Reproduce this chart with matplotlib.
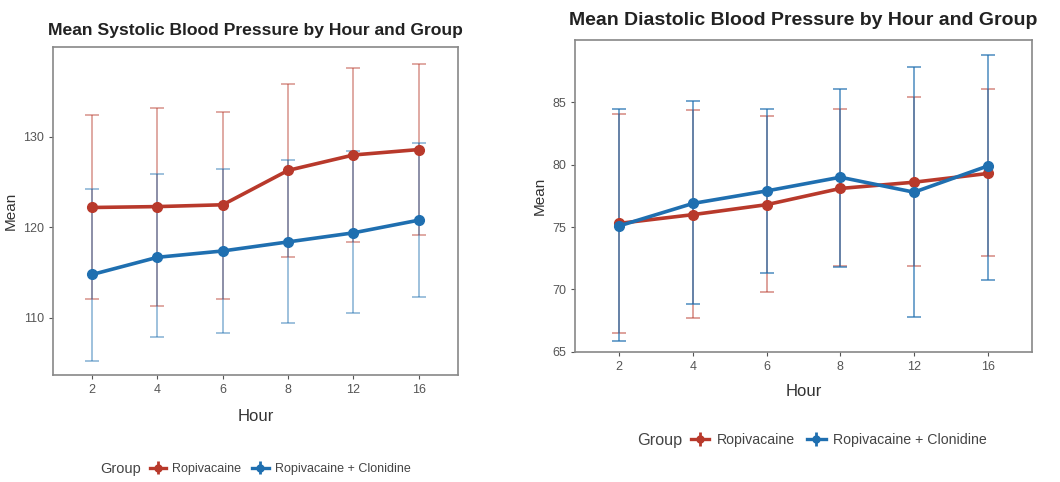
import matplotlib
matplotlib.use("Agg")
import matplotlib.pyplot as plt
from matplotlib.offsetbox import HPacker

# hours are treated as categories (evenly spaced)
hours = ["2", "4", "6", "8", "12", "16"]
groups = ["Ropivacaine", "Ropivacaine + Clonidine"]

# systolic: means and error bar ends
sys_ropi_mean = [122.2, 122.3, 122.5, 126.3, 128.0, 128.6]
sys_ropi_hi = [132.4, 133.2, 132.7, 135.8, 137.6, 138.1]
sys_ropi_lo = [112.1, 111.3, 112.1, 116.7, 118.4, 119.2]
sys_clon_mean = [114.8, 116.7, 117.4, 118.4, 119.4, 120.8]
sys_clon_hi = [124.2, 125.9, 126.5, 127.4, 128.4, 129.3]
sys_clon_lo = [105.2, 107.9, 108.3, 109.4, 110.6, 112.3]

# diastolic
dia_ropi_mean = [75.3, 76.0, 76.8, 78.1, 78.6, 79.3]
dia_ropi_hi = [84.1, 84.4, 83.9, 84.5, 85.4, 86.1]
dia_ropi_lo = [66.5, 67.7, 69.8, 71.9, 71.9, 72.7]
dia_clon_mean = [75.1, 76.9, 77.9, 79.0, 77.8, 79.9]
dia_clon_hi = [84.5, 85.1, 84.5, 86.1, 87.8, 88.8]
dia_clon_lo = [65.9, 68.8, 71.3, 71.8, 67.8, 70.8]

RED = "#B8392B"
BLUE = "#1F6FB0"
plt.rcParams["font.family"] = ["Liberation Sans", "DejaVu Sans"]


def draw_group(ax, mean, lo, hi, color, err_alpha):
    x = list(range(len(hours)))
    yerr = [[m - l for m, l in zip(mean, lo)], [h - m for m, h in zip(mean, hi)]]
    ax.errorbar(x, mean, yerr=yerr, fmt="none", ecolor=color, elinewidth=1.1,
                capsize=5, capthick=1.1, alpha=err_alpha, zorder=2)
    ax.plot(x, mean, color=color, lw=2.6, marker="o", ms=7, zorder=3)


def style_axes(ax, title, ylim, yticks, title_size, title_y, xlabelpad):
    ax.set_xlim(-0.6, len(hours) - 0.4)
    ax.set_ylim(*ylim)
    ax.set_yticks(yticks)
    ax.set_xticks(range(len(hours)))
    ax.set_xticklabels(hours)
    ax.tick_params(colors="#555555", labelsize=9, length=3, width=0.8)
    for s in ax.spines.values():
        s.set_color("#888888")
        s.set_linewidth(1.2)
    ax.set_ylabel("Mean", fontsize=11, color="#333333")
    ax.set_xlabel("Hour", fontsize=12, color="#333333", labelpad=xlabelpad)
    ax.set_title(title, fontsize=title_size, fontweight="bold", color="#222222",
                 y=title_y)


fig = plt.figure(figsize=(10.6, 4.82), dpi=100)

ax1 = fig.add_axes([0.050, 0.222, 0.382, 0.680])
draw_group(ax1, sys_ropi_mean, sys_ropi_lo, sys_ropi_hi, RED, 0.55)
draw_group(ax1, sys_clon_mean, sys_clon_lo, sys_clon_hi, BLUE, 0.55)
style_axes(ax1, "Mean Systolic Blood Pressure by Hour and Group",
           (103.7, 139.9), [110, 120, 130], 12.6, 1.012, 9)

ax2 = fig.add_axes([0.5425, 0.270, 0.431, 0.647])
draw_group(ax2, dia_ropi_mean, dia_ropi_lo, dia_ropi_hi, RED, 0.6)
draw_group(ax2, dia_clon_mean, dia_clon_lo, dia_clon_hi, BLUE, 0.8)
style_axes(ax2, "Mean Diastolic Blood Pressure by Hour and Group",
           (65, 90), [65, 70, 75, 80, 85], 14, 1.02, 8)

# legends: "Group" title inline, line+point+bar keys
for ax, cx, cy, fs in [(ax1, 0.241, 0.027, 9), (ax2, 0.766, 0.087, 10.2)]:
    h = []
    for c in [RED, BLUE]:
        e = ax.errorbar([], [], yerr=[], color=c, lw=2.4, marker="o", ms=5,
                        elinewidth=2, capsize=0)
        h.append(e)
    leg = fig.legend(h, groups, loc="center", bbox_to_anchor=(cx, cy),
                     ncol=2, frameon=False, fontsize=fs, handlelength=1.3,
                     columnspacing=0.9, handletextpad=0.5, title="Group",
                     title_fontsize=fs + 1.5)
    for t in leg.get_texts():
        t.set_color("#444444")
    leg.get_title().set_color("#444444")
    # put the title on the left of the keys, as ggplot does
    box = leg._legend_box
    title_box, handles_box = box.get_children()
    leg._legend_box = HPacker(pad=0, sep=6, children=[title_box, handles_box],
                              align="center")
    leg._legend_box.set_figure(fig)
    leg._legend_box.set_offset(box._offset)

fig.savefig("out.png", dpi=100, facecolor="white")
